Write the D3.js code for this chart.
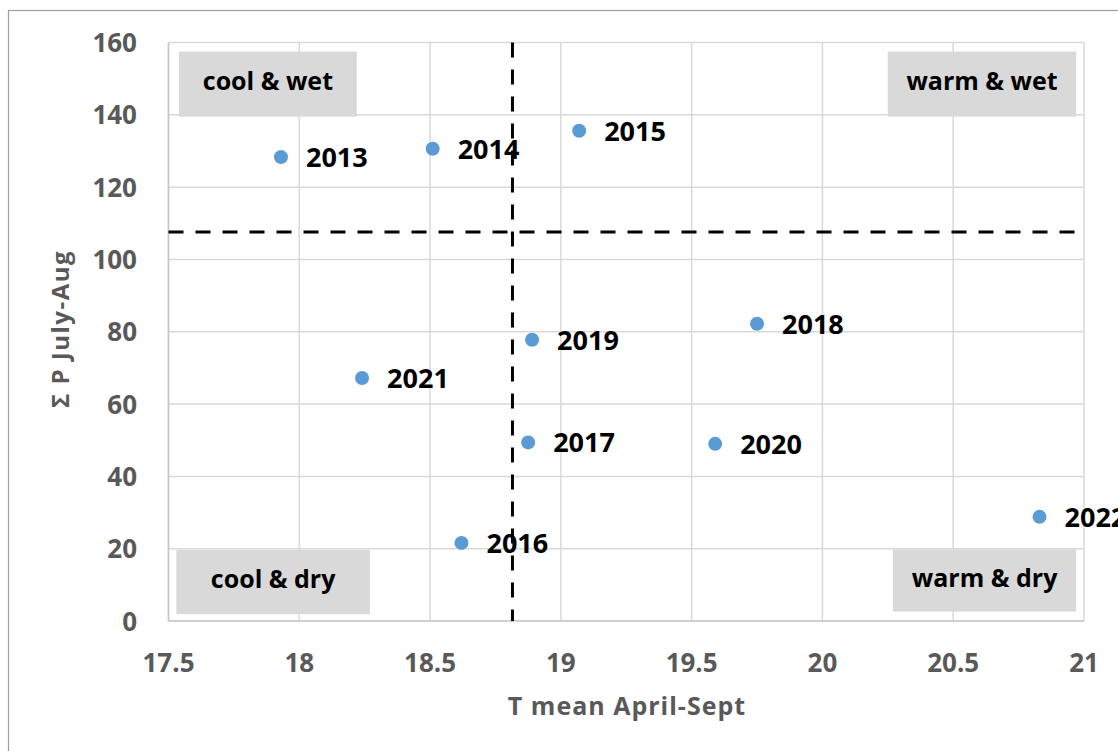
<!DOCTYPE html>
<html>
<head>
<meta charset="utf-8">
<script src="https://cdn.jsdelivr.net/npm/d3@7"></script>
<style>
  body { margin: 0; background: #fff; overflow: hidden; }
  text { font-family: "Open Sans", "Liberation Sans", sans-serif; font-weight: bold; }
</style>
</head>
<body>
<svg id="chart"></svg>
<script>
// data
const years = ["2013", "2014", "2015", "2016", "2017", "2018", "2019", "2020", "2021", "2022"];
const tMean = [17.93, 18.51, 19.07, 18.62, 18.875, 19.75, 18.89, 19.59, 18.24, 20.83];
const precip = [128.3, 130.6, 135.6, 21.6, 49.4, 82.2, 77.8, 49.0, 67.2, 28.8];
const xTicks = [17.5, 18, 18.5, 19, 19.5, 20, 20.5, 21];
const yTicks = [0, 20, 40, 60, 80, 100, 120, 140, 160];
const tRef = 18.815;   // vertical dashed line
const pRef = 107.6;    // horizontal dashed line
const quadrants = [
  { name: "cool & wet", x0: 17.54, x1: 18.22, y0: 157.5, y1: 139.5 },
  { name: "warm & wet", x0: 20.25, x1: 20.97, y0: 157.5, y1: 139.5 },
  { name: "cool & dry", x0: 17.53, x1: 18.27, y0: 19.7, y1: 1.9 },
  { name: "warm & dry", x0: 20.27, x1: 20.97, y0: 19.8, y1: 2.6 }
];

const width = 1118, height = 751;
const margin = { left: 168.5, right: 1084, top: 42.5, bottom: 621 };

const svg = d3.select("#chart").attr("width", width).attr("height", height);

// outer chart border (only top and left visible)
svg.append("rect")
  .attr("x", 8.5).attr("y", 10.5)
  .attr("width", 1200).attr("height", 800)
  .attr("fill", "none").attr("stroke", "#a0a0a0").attr("stroke-width", 1.2);

const x = d3.scaleLinear().domain([17.5, 21]).range([margin.left, margin.right]);
const y = d3.scaleLinear().domain([0, 160]).range([margin.bottom, margin.top]);

// gridlines
svg.append("g").selectAll("line").data(xTicks).enter().append("line")
  .attr("x1", d => x(d)).attr("x2", d => x(d))
  .attr("y1", y(0)).attr("y2", y(160))
  .attr("stroke", "#d9d9d9").attr("stroke-width", 1.5);
svg.append("g").selectAll("line").data(yTicks).enter().append("line")
  .attr("x1", x(17.5)).attr("x2", x(21))
  .attr("y1", d => y(d)).attr("y2", d => y(d))
  .attr("stroke", "#d9d9d9").attr("stroke-width", 1.5);

// axis lines
svg.append("line").attr("x1", x(17.5)).attr("x2", x(21)).attr("y1", y(0)).attr("y2", y(0))
  .attr("stroke", "#c8c8c8").attr("stroke-width", 1.5);
svg.append("line").attr("x1", x(17.5)).attr("x2", x(17.5)).attr("y1", y(0)).attr("y2", y(160))
  .attr("stroke", "#c8c8c8").attr("stroke-width", 1.5);

// tick labels
svg.append("g").selectAll("text").data(xTicks).enter().append("text")
  .attr("x", d => x(d)).attr("y", 672)
  .attr("text-anchor", "middle").attr("font-size", 26).attr("fill", "#595959")
  .text(d => d);
svg.append("g").selectAll("text").data(yTicks).enter().append("text")
  .attr("x", 137).attr("y", d => y(d) + 9.5)
  .attr("text-anchor", "end").attr("font-size", 26).attr("fill", "#595959")
  .text(d => d);

// axis titles
svg.append("text").attr("x", 627).attr("y", 715)
  .attr("text-anchor", "middle").attr("font-size", 25).attr("fill", "#595959")
  .attr("letter-spacing", 1)
  .text("T mean April-Sept");
svg.append("text")
  .attr("transform", "translate(69,329) rotate(-90)")
  .attr("text-anchor", "middle").attr("font-size", 24).attr("fill", "#595959")
  .attr("letter-spacing", 1.5)
  .text("Σ P July-Aug");

// quadrant boxes
const q = svg.append("g").selectAll("g").data(quadrants).enter().append("g");
q.append("rect")
  .attr("x", d => x(d.x0)).attr("y", d => y(d.y0))
  .attr("width", d => x(d.x1) - x(d.x0)).attr("height", d => y(d.y1) - y(d.y0))
  .attr("fill", "#d9d9d9");
q.append("text")
  .attr("x", d => (x(d.x0) + x(d.x1)) / 2)
  .attr("y", d => (y(d.y0) + y(d.y1)) / 2 + 6)
  .attr("text-anchor", "middle").attr("font-size", 25).attr("fill", "#000")
  .text(d => d.name);

// reference dashed lines
svg.append("line")
  .attr("x1", x(tRef)).attr("x2", x(tRef)).attr("y1", y(160)).attr("y2", y(0))
  .attr("stroke", "#000").attr("stroke-width", 3).attr("stroke-dasharray", "15,12");
svg.append("line")
  .attr("x1", x(17.5)).attr("x2", x(21)).attr("y1", y(pRef)).attr("y2", y(pRef))
  .attr("stroke", "#000").attr("stroke-width", 3).attr("stroke-dasharray", "15,12");

// points + labels
const pts = svg.append("g").selectAll("g").data(years).enter().append("g");
pts.append("circle")
  .attr("cx", (d, i) => x(tMean[i])).attr("cy", (d, i) => y(precip[i]))
  .attr("r", 7).attr("fill", "#5b9bd5");
pts.append("text")
  .attr("x", (d, i) => x(tMean[i]) + 25).attr("y", (d, i) => y(precip[i]) + 10)
  .attr("font-size", 27).attr("fill", "#000")
  .text(d => d);
</script>
</body>
</html>
